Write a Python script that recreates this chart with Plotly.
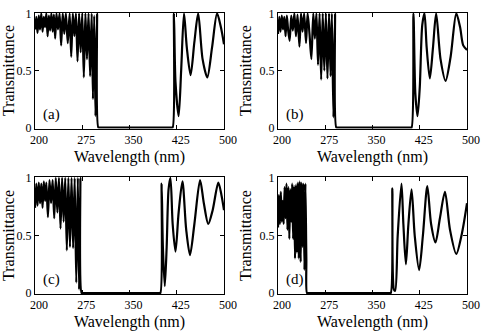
import plotly.graph_objects as go

# ---------------- data ----------------
wl_a = [200, 202, 204, 206, 208, 210, 212, 214, 216, 218, 220, 222, 224, 226, 228, 230, 232, 234,
        236.5, 239, 241.5, 244, 246.5, 249, 252, 255, 257.5, 260, 262.5, 265, 267.5, 270, 272.5, 275,
        277.5, 280, 282.5, 285, 287.5, 290, 292, 294, 296, 298.5, 300.5, 302.5, 330, 360, 390, 416.5, 418.5,
        420.5, 423, 428, 432, 436.5, 441, 447, 453, 459, 466, 473.5, 481, 489, 495, 500]
T_a = [0.86, 0.97, 0.83, 0.98, 0.86, 1.0, 0.84, 0.97, 0.88, 1.0, 0.80, 0.98, 0.85, 1.0, 0.84, 0.99, 0.78, 1.0,
       0.86, 1.0, 0.72, 1.0, 0.82, 1.0, 0.74, 1.0, 0.62, 1.0, 0.80, 1.0, 0.58, 1.0, 0.66, 1.0,
       0.44, 1.0, 0.60, 1.0, 0.45, 1.0, 0.25, 0.98, 0.10, 1.0, 0.0, 0.0, 0.0, 0.0, 0.0, 0.0, 0.0,
       1.0, 0.40, 0.10, 0.50, 1.0, 0.70, 0.46, 0.75, 1.0, 0.60, 0.44, 0.70, 1.0, 0.88, 0.73]

wl_b = [200, 202, 204, 206, 208, 210, 212, 214, 216, 218.5, 221, 223.5, 226, 228.5, 231, 234, 236.5,
        239, 241.5, 244.5, 247, 250, 253, 256, 258.5, 261, 263.5, 266, 268.5, 271, 273.5, 276, 278.5,
        281, 283.5, 285.5, 288, 290.5, 292.5, 294.5, 320, 350, 380, 410, 412,
        415, 418, 421.5, 425, 429, 432.5, 436, 441, 446, 451, 458, 466, 474, 483, 489, 494, 500]
T_b = [0.82, 0.97, 0.84, 0.98, 0.86, 0.97, 0.80, 0.98, 0.86, 0.76, 0.98, 0.85, 1.0, 0.80, 0.99, 0.71, 1.0,
       0.84, 1.0, 0.74, 1.0, 0.82, 0.60, 1.0, 0.78, 1.0, 0.55, 1.0, 0.42, 1.0, 0.50, 1.0, 0.43,
       1.0, 0.45, 1.0, 0.09, 1.0, 0.0, 0.0, 0.0, 0.0, 0.0, 0.0, 0.0,
       1.0, 0.30, 0.10, 0.35, 0.90, 1.0, 0.70, 0.43, 0.70, 1.0, 0.60, 0.41, 0.62, 1.0, 0.88, 0.72, 0.68]

wl_c = [200, 202, 204, 206, 208, 210, 212, 214, 216, 218, 220.5, 223, 225.5, 228, 230.5, 233, 235.5,
        238, 240.5, 243, 245.5, 248, 250.5, 253, 255.5, 258, 260.5, 263, 265.5, 268, 270, 272, 274, 276,
        300, 330, 360, 397, 399,
        401, 403, 406, 409, 412, 415, 418.5, 423, 428, 434, 440, 446, 453, 462, 468, 475, 482, 491, 496, 500]
T_c = [0.74, 0.95, 0.76, 0.96, 0.78, 0.95, 0.74, 0.97, 0.80, 0.96, 0.66, 0.98, 0.78, 0.98, 0.65, 1.0, 0.70,
       1.0, 0.56, 1.0, 0.62, 1.0, 0.37, 1.0, 0.40, 1.0, 0.39, 1.0, 0.09, 1.0, 0.03, 1.0, 0.0, 0.0,
       0.0, 0.0, 0.0, 0.0, 0.0,
       0.95, 0.40, 0.06, 0.40, 0.90, 1.0, 0.60, 0.36, 0.70, 0.97, 0.55, 0.33, 0.60, 0.98, 0.78, 0.60, 0.72, 0.96, 0.85, 0.72]

wl_d = [200, 201.5, 203, 204.5, 206, 207.5, 209, 210.5, 212, 213.5, 215, 216.5, 218, 219.5, 221, 222.5,
        224, 225.5, 227, 228.5, 230, 231.5, 233, 234.5, 236, 237.5, 239, 240.5, 242, 243.5, 245, 246, 248,
        280, 310, 340, 377, 379,
        381.5, 384, 386, 390, 396, 399, 403, 407, 412, 417, 424, 430, 437, 443, 450, 457, 465, 473, 483, 492, 500]
T_d = [0.57, 0.85, 0.60, 0.88, 0.62, 0.80, 0.60, 0.92, 0.65, 0.95, 0.55, 0.92, 0.47, 0.90, 0.62, 0.95,
       0.47, 0.93, 0.30, 0.94, 0.35, 0.96, 0.30, 0.97, 0.27, 0.96, 0.40, 0.95, 0.20, 0.95, 0.30, 0.0, 0.0,
       0.0, 0.0, 0.0, 0.0, 0.0,
       0.91, 0.03, 0.02, 0.50, 0.95, 0.60, 0.25, 0.60, 0.90, 0.50, 0.20, 0.50, 0.93, 0.60, 0.44, 0.65, 0.88, 0.55, 0.34, 0.52, 0.78]

panel_labels = ["(a)", "(b)", "(c)", "(d)"]
x_ticks = [200, 275, 350, 425, 500]
y_ticks = [0, 0.5, 1]
y_ticktext = ["0", "0.5", "1"]

series = [(wl_a, T_a), (wl_b, T_b), (wl_c, T_c), (wl_d, T_d)]

# ---------------- layout geometry ----------------
W, H = 486, 333
x_doms = [(35 / W, 224 / W), (278 / W, 467 / W)]
y_doms = [(1 - 128.5 / H, 1 - 12.5 / H), (1 - 294 / H, 1 - 177 / H)]

FONT = "Liberation Serif"

fig = go.Figure()
layout = dict(width=W, height=H, margin=dict(l=0, r=0, t=0, b=0),
              paper_bgcolor="white", plot_bgcolor="white", showlegend=False,
              template="none", font=dict(family=FONT, color="black"))
annotations = []
for i, (x, y) in enumerate(series):
    r, c = divmod(i, 2)
    n = "" if i == 0 else str(i + 1)
    fig.add_trace(go.Scatter(x=x, y=y, mode="lines", xaxis="x" + n, yaxis="y" + n,
                             line=dict(color="black", width=2.2, shape="spline", smoothing=0.8)))
    layout["xaxis" + n] = dict(domain=x_doms[c], anchor="y" + n, range=[200, 500],
                               tickvals=x_ticks, ticks="inside", ticklen=4, tickcolor="black",
                               showline=True, linecolor="black", linewidth=1, mirror="ticks",
                               showgrid=False, zeroline=False, automargin=False,
                               tickfont=dict(family=FONT, size=12, color="black"),
                               ticklabelshift=4,
                               title=dict(text="Wavelength (nm)", standoff=4,
                                          font=dict(family=FONT, size=16, color="black")))
    layout["yaxis" + n] = dict(domain=y_doms[r], anchor="x" + n, range=[-0.008, 1.008],
                               tickvals=y_ticks, ticktext=y_ticktext, ticks="inside", ticklen=4,
                               tickcolor="black", showline=True, linecolor="black", linewidth=1,
                               mirror="ticks", showgrid=False, zeroline=False, automargin=False,
                               tickfont=dict(family=FONT, size=12, color="black"),
                               title=dict(text="Transmittance", standoff=3,
                                          font=dict(family=FONT, size=16, color="black")))
    annotations.append(dict(text=panel_labels[i], xref="x" + n + " domain", yref="y" + n + " domain",
                            x=0.03, y=0.03, xanchor="left", yanchor="bottom", showarrow=False,
                            font=dict(family=FONT, size=15, color="black")))
layout["annotations"] = annotations
fig.update_layout(**layout)
fig.write_html("out.html")
